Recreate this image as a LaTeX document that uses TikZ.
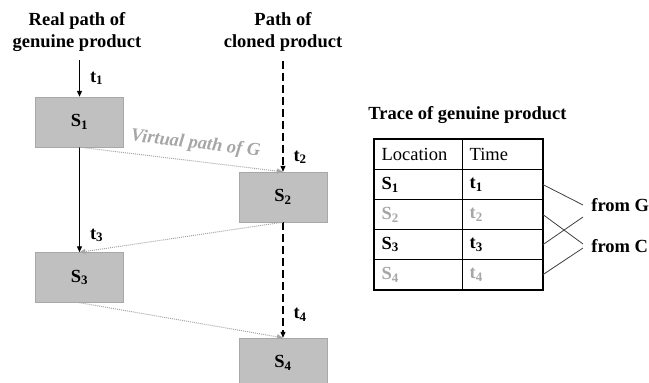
\documentclass[tikz,border=0pt]{standalone}
\usepackage{fontspec}
\setmainfont{Liberation Serif}
\usetikzlibrary{arrows.meta,positioning,matrix}
\definecolor{boxgray}{HTML}{C0C0C0}
\definecolor{edgegray}{HTML}{A8A8A8}
\definecolor{virtual}{HTML}{A6A6A6}
\definecolor{linkgray}{HTML}{404040}

\begin{document}
\fontsize{18.5}{22.5}\selectfont
\begin{tikzpicture}[x=1pt, y=1pt,
    site/.style={draw=edgegray, fill=boxgray, minimum width=88pt, minimum height=50pt,
                 font=\bfseries},
    real/.style={-{Triangle[length=6pt,width=5pt]}, line width=1.1pt},
    clone/.style={real, dash pattern=on 8pt off 4pt},
    virt/.style={-{Triangle[length=6pt,width=5pt]}, virtual, line width=1pt,
                 dash pattern=on 1pt off 1pt},
    lbl/.style={font=\bfseries, inner sep=1pt},
    title/.style={font=\bfseries, align=center},
    link/.style={linkgray, line width=0.8pt}
  ]
  \useasboundingbox (0,0) rectangle (649,-383);

  % titles of the two paths
  \node[title] (realtitle) at (77,-32) {Real path of\\genuine product};
  \node[title] (clonetitle) at (283,-32) {Path of\\cloned product};

  % locations
  \node[site] (s1) at (79.5,-122) {S\textsubscript{1}};
  \node[site] (s2) at (283,-197) {S\textsubscript{2}};
  \node[site] (s3) at (79.5,-277.5) {S\textsubscript{3}};
  \node[site] (s4) at (283,-363) {S\textsubscript{4}};

  \coordinate (realstart) at (79.5,-60);
  \coordinate (clonestart) at (283,-61);

  % real and cloned paths
  \draw[real] (realstart) -- node[lbl, right=9pt] {t\textsubscript{1}} (s1);
  \draw[real] (s1) -- node[lbl, pos=0.84, right=9pt] {t\textsubscript{3}} (s3);
  \draw[clone] (clonestart) -- node[lbl, pos=0.87, right=9pt] {t\textsubscript{2}} (s2);
  \draw[clone] (s2) -- node[lbl, pos=0.8, right=9pt] {t\textsubscript{4}} (s4);

  % virtual path
  \draw[virt] (s1.south) -- node[sloped, above=2pt, pos=0.56, text=virtual,
      font=\bfseries\itshape] {Virtual path of G} (s2.north);
  \draw[virt] (s2.south) -- (s3.north);
  \draw[virt] (s3.south) -- (s4.north);

  % trace table
  \node[font=\bfseries, anchor=west] (tracetitle) at (362,-115) {Trace of genuine product};
  \matrix (trace) at (374,-139) [matrix of nodes, anchor=north west, inner sep=0pt,
      row sep=-0.8pt, column sep=-0.8pt,
      nodes={draw, line width=0.8pt, minimum height=30pt, inner xsep=7pt,
             anchor=center, align=left},
      column 1/.style={nodes={text width=74pt}},
      column 2/.style={nodes={text width=66pt}},
      row 3/.style={nodes={text=virtual}},
      row 5/.style={nodes={text=virtual}}]
  {
    Location & Time \\
    \textbf{S\textsubscript{1}} & \textbf{t\textsubscript{1}} \\
    \textbf{S\textsubscript{2}} & \textbf{t\textsubscript{2}} \\
    \textbf{S\textsubscript{3}} & \textbf{t\textsubscript{3}} \\
    \textbf{S\textsubscript{4}} & \textbf{t\textsubscript{4}} \\
  };
  \draw[line width=2pt] (trace.north west) rectangle (trace.south east);

  % origin of the entries
  \node[font=\bfseries, anchor=west] (fromG) at (585,-205) {from G};
  \node[font=\bfseries, anchor=west] (fromC) at (585,-246) {from C};
  \draw[link] (trace-2-2.east) -- ([xshift=-2pt]fromG.west);
  \draw[link] (trace-4-2.east) -- ([xshift=-2pt, yshift=-12pt]fromG.west);
  \draw[link] (trace-3-2.east) -- ([xshift=-2pt, yshift=2pt]fromC.west);
  \draw[link] (trace-5-2.east) -- ([xshift=-2pt, yshift=-2pt]fromC.west);
\end{tikzpicture}
\end{document}
